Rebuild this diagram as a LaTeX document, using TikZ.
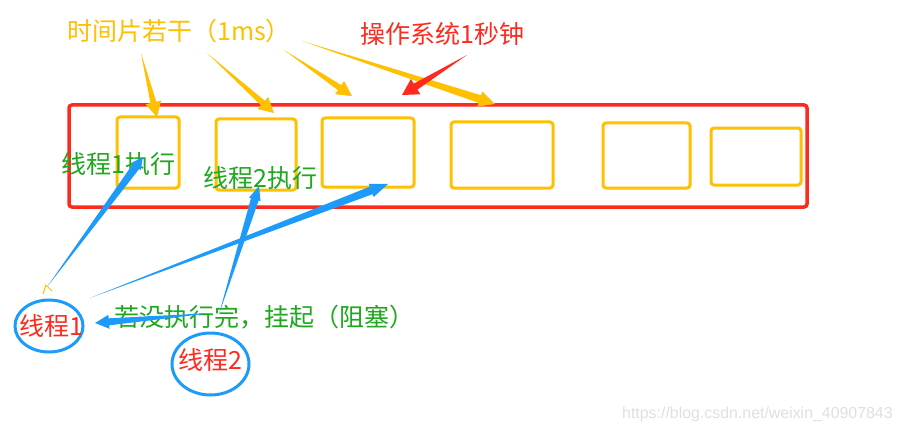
\documentclass[tikz,border=0pt]{standalone}
\usepackage{fontspec}
\newfontfamily\cjk{Noto Sans CJK SC}
\newfontfamily\wmfont{Liberation Sans}
\usetikzlibrary{calc,shapes.geometric}
\definecolor{sliceorange}{HTML}{FFC000}
\definecolor{osred}{HTML}{FF2A1E}
\definecolor{threadblue}{HTML}{1E9BFA}
\definecolor{rungreen}{HTML}{1EA81E}
% tapered arrow: style, tail, tip, shaft half width, head half width, head length
\newcommand\taper[6]{%
  \path ($(#3)!#6!(#2)$) coordinate (hb);
  \fill[#1] (#2) -- ($(hb)!#4!90:(#3)$) -- ($(hb)!#5!90:(#3)$) -- (#3)
    -- ($(hb)!#5!-90:(#3)$) -- ($(hb)!#4!-90:(#3)$) -- cycle;
}
\tikzset{
  frame/.style={draw=osred,line width=3.5pt,rounded corners=3pt,outer sep=0pt,inner sep=0pt},
  slot/.style={draw=sliceorange,line width=3pt,rounded corners=3pt,outer sep=0pt,inner sep=0pt},
  thread/.style={ellipse,draw=threadblue,line width=3pt,inner sep=0pt,outer sep=0pt},
  cjktext/.style={font=\cjk\fontsize{25}{29}\selectfont,inner sep=0pt,anchor=west},
  redlabel/.style={font=\cjk\fontsize{25}{29}\selectfont,inner sep=0pt,text=osred}
}
\begin{document}
\begin{tikzpicture}[x=1pt,y=-1pt]
\fill[white] (0,0) rectangle (904,433);
\useasboundingbox (0,0) rectangle (904,433);

\node[frame,minimum width=738pt,minimum height=102pt] (frame) at (438,156) {};
\node[slot,minimum width=62pt,minimum height=71pt] (s1) at (148,152.5) {};
\node[slot,minimum width=80pt,minimum height=71pt] (s2) at (256,154.5) {};
\node[slot,minimum width=92pt,minimum height=69pt] (s3) at (368,152.5) {};
\node[slot,minimum width=102pt,minimum height=66pt] (s4) at (502,155) {};
\node[slot,minimum width=87pt,minimum height=65pt] (s5) at (646.5,155.5) {};
\node[slot,minimum width=90pt,minimum height=57pt] (s6) at (756,156.5) {};

\node[cjktext,text=sliceorange] (slices) at (67,31) {时间片若干（1ms）};
\node[cjktext,text=osred] (second) at (360,34) {操作系统1秒钟};
\node[cjktext,text=rungreen] (run1) at (61,164) {线程1执行};
\node[cjktext,text=rungreen] (run2) at (203,178) {线程2执行};
\node[cjktext,text=rungreen] (block) at (114,317) {若没执行完，挂起（阻塞）};

\node[thread,minimum width=68pt,minimum height=52pt,label={[redlabel,xshift=2pt]center:线程1}] (p1) at (49,326) {};
\node[thread,minimum width=77pt,minimum height=62pt,label={[redlabel,yshift=4pt]center:线程2}] (p2) at (210.5,364) {};

% time slice arrows
\coordinate (a1) at (141,53);
\coordinate (a2) at (207,53);
\coordinate (a3) at (284,50);
\coordinate (a4) at (302,41);
\coordinate (r1) at (467,55);
\coordinate (a1tip) at ([xshift=9pt]s1.north);
\coordinate (a2tip) at ([xshift=18pt,yshift=6pt]s2.north);
\coordinate (a3tip) at ([xshift=-16pt,yshift=22pt]s3.north);
\coordinate (a4tip) at ([xshift=-7pt,yshift=18pt]s4.north);
\coordinate (r1tip) at ([xshift=-36pt,yshift=10pt]frame.north);
\taper{sliceorange}{a1}{a1tip}{3pt}{8pt}{15pt}
\taper{sliceorange}{a2}{a2tip}{3pt}{8pt}{15pt}
\taper{sliceorange}{a3}{a3tip}{3pt}{8pt}{15pt}
\taper{sliceorange}{a4}{a4tip}{4pt}{8pt}{16pt}
\taper{osred}{r1}{r1tip}{3.5pt}{9pt}{16pt}

% thread arrows
\coordinate (b1) at (47,287);
\coordinate (b2) at (90,298);
\coordinate (b3) at (219,314);
\coordinate (b4) at (212,313);
\coordinate (b1tip) at ([xshift=82pt,yshift=7pt]run1.west);
\coordinate (b2tip) at ([xshift=20pt,yshift=3pt]s3.south);
\coordinate (b3tip) at ([xshift=56pt,yshift=-8pt]run2.west);
\coordinate (b4tip) at ([xshift=12pt,yshift=3pt]p1.east);
\taper{threadblue}{b1}{b1tip}{4pt}{6pt}{12pt}
\taper{threadblue}{b2}{b2tip}{4pt}{7pt}{18pt}
\taper{threadblue}{b3}{b3tip}{4pt}{6pt}{14pt}
\taper{threadblue}{b4}{b4tip}{3.5pt}{7pt}{14pt}

\draw[sliceorange,line width=1pt] (43,294) -- (46,285) -- (52,291);

\node[font=\wmfont\fontsize{15.9}{18}\selectfont,text=black!12,inner sep=0pt,anchor=west] (mark) at (622,414) {https://blog.csdn.net/weixin\_40907843};
\end{tikzpicture}
\end{document}
